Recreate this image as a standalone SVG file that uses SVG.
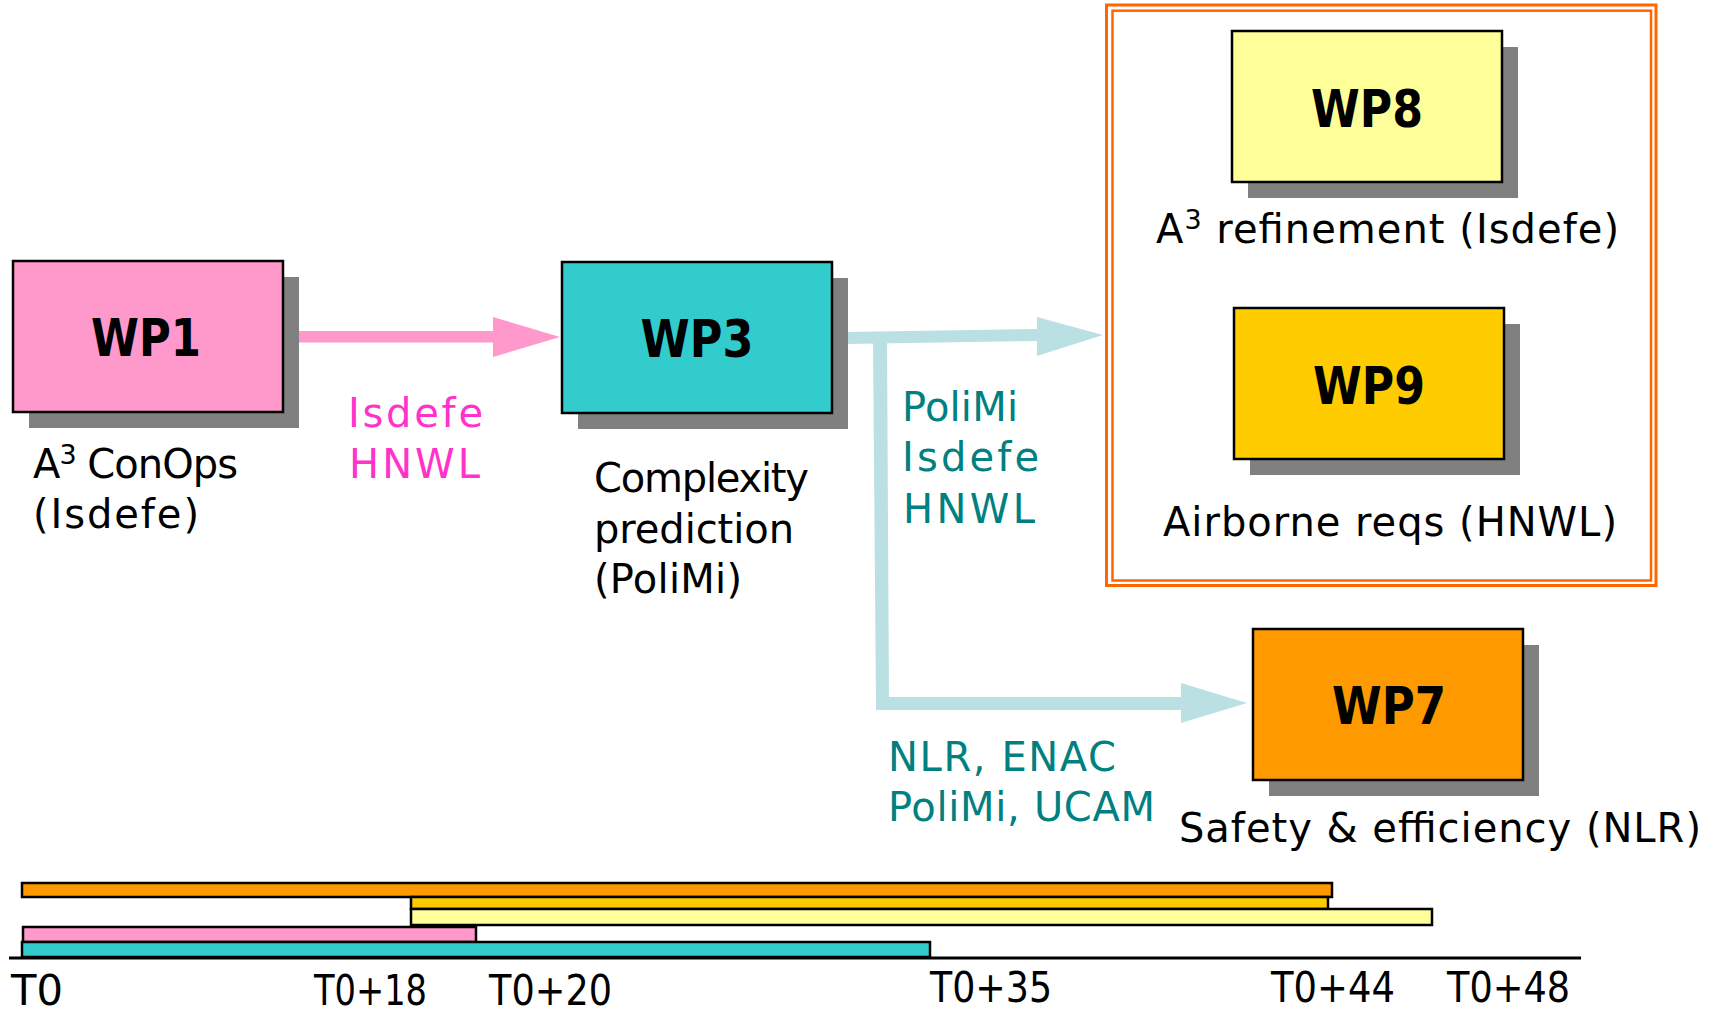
<svg xmlns="http://www.w3.org/2000/svg" width="1715" height="1012" viewBox="0 0 1715 1012">
<style>
.box{stroke:#000;stroke-width:2.5}
.shadow{fill:#808080}
.wp{font-family:"DejaVu Sans",sans-serif;font-weight:bold;font-size:51px;text-anchor:middle;fill:#000}
.lbl{font-family:"DejaVu Sans",sans-serif;font-size:40px;fill:#000}
.pink{fill:#FF33CC}
.teal{fill:#008080}
.sup{font-size:27px}
.bar{stroke:#000;stroke-width:2.5}
.tl{font-family:"DejaVu Sans",sans-serif;font-size:42px;fill:#000}
</style>
<rect width="1715" height="1012" fill="#fff"/>
<g id="frame" fill="none" stroke="#FF6600">
<rect x="1106.5" y="5" width="549.5" height="580.5" stroke-width="3"/>
<rect x="1112.5" y="10.7" width="538.5" height="569.8" stroke-width="2.5"/>
</g>
<g id="connectors">
<rect x="299" y="331" width="194" height="11.5" fill="#FF99CC"/>
<polygon points="493,317 560,337 493,357" fill="#FF99CC"/>
<polygon points="847,332 1038,329 1038,341 847,344" fill="#BBE0E3"/>
<polygon points="1037,317 1103,335 1037,356" fill="#BBE0E3"/>
<polygon points="873,340 887,340 889,704 876,704" fill="#BBE0E3"/>
<rect x="876" y="697" width="306" height="13" fill="#BBE0E3"/>
<polygon points="1181,683 1247,703 1181,723" fill="#BBE0E3"/>
</g>
<g id="wp1">
<rect class="shadow" x="29" y="277" width="270" height="151"/>
<rect class="box" x="13" y="261" width="270" height="151" fill="#FF99CC"/>
<text class="wp" x="146" y="356" textLength="110" lengthAdjust="spacingAndGlyphs">WP1</text>
<text class="lbl" x="33" y="478" textLength="205">A<tspan class="sup" dy="-14">3</tspan><tspan dy="14"> ConOps</tspan></text>
<text class="lbl" x="33" y="528" textLength="166">(Isdefe)</text>
</g>
<g id="wp3">
<rect class="shadow" x="578" y="278" width="270" height="151"/>
<rect class="box" x="562" y="262" width="270" height="151" fill="#33CCCC"/>
<text class="wp" x="697" y="357" textLength="113" lengthAdjust="spacingAndGlyphs">WP3</text>
<text class="lbl" x="594" y="492" textLength="215">Complexity</text>
<text class="lbl" x="594" y="543" textLength="200">prediction</text>
<text class="lbl" x="594" y="593" textLength="148">(PoliMi)</text>
</g>
<g id="wp8">
<rect class="shadow" x="1248" y="47" width="270" height="151"/>
<rect class="box" x="1232" y="31" width="270" height="151" fill="#FFFF99"/>
<text class="wp" x="1367" y="127" textLength="112" lengthAdjust="spacingAndGlyphs">WP8</text>
<text class="lbl" x="1156" y="243" textLength="463">A<tspan class="sup" dy="-14">3</tspan><tspan dy="14"> refinement (Isdefe)</tspan></text>
</g>
<g id="wp9">
<rect class="shadow" x="1250" y="324" width="270" height="151"/>
<rect class="box" x="1234" y="308" width="270" height="151" fill="#FFCC00"/>
<text class="wp" x="1369" y="404" textLength="112" lengthAdjust="spacingAndGlyphs">WP9</text>
<text class="lbl" x="1163" y="536" textLength="454">Airborne reqs (HNWL)</text>
</g>
<g id="wp7">
<rect class="shadow" x="1269" y="645" width="270" height="151"/>
<rect class="box" x="1253" y="629" width="270" height="151" fill="#FF9900"/>
<text class="wp" x="1389" y="724" textLength="114" lengthAdjust="spacingAndGlyphs">WP7</text>
<text class="lbl" x="1179" y="842" textLength="522">Safety &amp; efficiency (NLR)</text>
</g>
<g id="labels">
<text class="lbl pink" x="348" y="427" textLength="135">Isdefe</text>
<text class="lbl pink" x="349" y="478" textLength="131">HNWL</text>
<text class="lbl teal" x="902" y="421" textLength="116">PoliMi</text>
<text class="lbl teal" x="902" y="471" textLength="137">Isdefe</text>
<text class="lbl teal" x="903" y="523" textLength="132">HNWL</text>
<text class="lbl teal" x="888" y="771" textLength="228">NLR, ENAC</text>
<text class="lbl teal" x="888" y="821" textLength="267">PoliMi, UCAM</text>
</g>
<g id="timeline">
<rect class="bar" x="22" y="883" width="1310" height="14" fill="#FF9900"/>
<rect class="bar" x="411" y="897" width="917" height="12" fill="#FFCC00"/>
<rect class="bar" x="411" y="909" width="1021" height="16" fill="#FFFF99"/>
<rect class="bar" x="23" y="927" width="453" height="15" fill="#FF99CC"/>
<rect class="bar" x="22" y="942" width="908" height="15" fill="#33CCCC"/>
<line x1="9" y1="958" x2="1581" y2="958" stroke="#000" stroke-width="3"/>
<text class="tl" x="11" y="1005" textLength="52" lengthAdjust="spacingAndGlyphs">T0</text>
<text class="tl" x="314" y="1005" textLength="113" lengthAdjust="spacingAndGlyphs">T0+18</text>
<text class="tl" x="489" y="1005" textLength="123" lengthAdjust="spacingAndGlyphs">T0+20</text>
<text class="tl" x="930" y="1002" textLength="122" lengthAdjust="spacingAndGlyphs">T0+35</text>
<text class="tl" x="1271" y="1002" textLength="124" lengthAdjust="spacingAndGlyphs">T0+44</text>
<text class="tl" x="1447" y="1002" textLength="123" lengthAdjust="spacingAndGlyphs">T0+48</text>
</g>
</svg>
